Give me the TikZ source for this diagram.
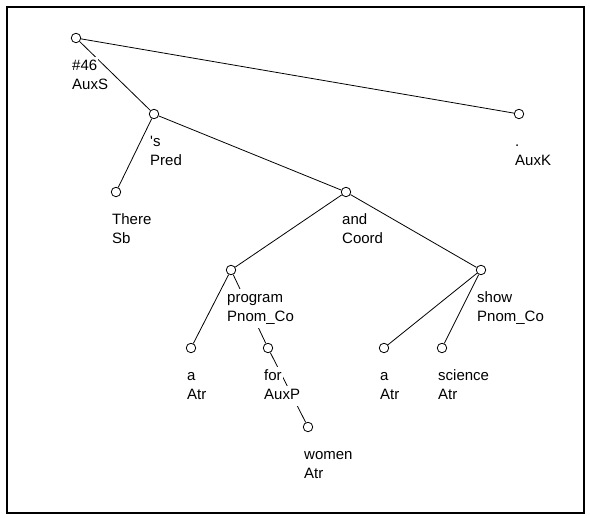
\documentclass[tikz,border=0pt]{standalone}
\usepackage{fontspec}
\setmainfont{Liberation Sans}

\begin{document}
\begin{tikzpicture}[x=1pt, y=-1pt,
  tok/.style={draw, circle, fill=white, inner sep=0pt, minimum size=9.5pt, line width=0.8pt},
  lbl/.style={fill=white, inner xsep=1pt, inner ysep=2.5pt, text height=11pt, text depth=4pt,
    anchor=base west, font=\fontsize{15}{18}\selectfont},
  edge/.style={line width=0.8pt}]
  \useasboundingbox (0,0) rectangle (590,518);
  \draw[line width=2pt] (7,7) rectangle (584,513);

  % tokens
  \node[tok] (root)  at (76,38)   {};
  \node[tok] (pred)  at (154,114) {};
  \node[tok] (dot)   at (519,114) {};
  \node[tok] (there) at (116,192) {};
  \node[tok] (coord) at (346,192) {};
  \node[tok] (prog)  at (231,270) {};
  \node[tok] (show)  at (481,270) {};
  \node[tok] (atra)  at (191,348) {};
  \node[tok] (for)   at (268,348) {};
  \node[tok] (atrb)  at (384,348) {};
  \node[tok] (sci)   at (442,348) {};
  \node[tok] (women) at (308,427) {};

  % dependencies
  \foreach \a/\b in {root/pred, root/dot, pred/there, pred/coord,
                     coord/prog, coord/show, prog/atra, prog/for,
                     for/women, show/atrb, show/sci}
    \draw[edge] (\a) -- (\b);

  % word and function rows
  \foreach \n/\w/\f in {root/\#46/AuxS, pred/\textquotesingle s/Pred, dot/./AuxK,
                        there/There/Sb, coord/and/Coord, prog/program/Pnom\_Co,
                        show/show/Pnom\_Co, atra/a/Atr, for/for/AuxP,
                        atrb/a/Atr, sci/science/Atr, women/women/Atr} {
    \node[lbl] (\n-w) at ([xshift=-5pt, yshift=-33pt]\n.center) {\w};
    \node[lbl] (\n-f) at ([xshift=-5pt, yshift=-52pt]\n.center) {\f};
  }
\end{tikzpicture}
\end{document}
